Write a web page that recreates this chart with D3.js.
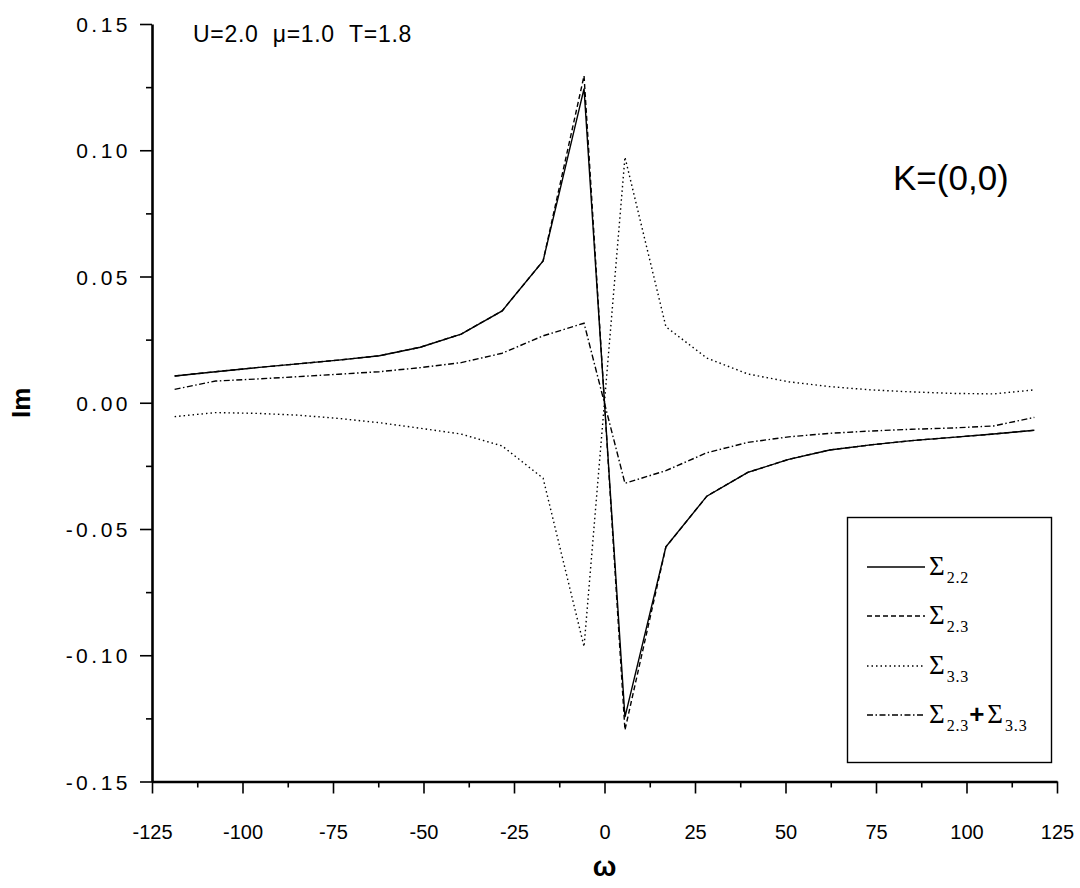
<!DOCTYPE html>
<html>
<head>
<meta charset="utf-8">
<script src="https://cdn.jsdelivr.net/npm/d3@7"></script>
<style>
  html, body { margin: 0; padding: 0; background: #fff; }
  svg { display: block; }
  .tick text { font-family: "Liberation Sans", Arial, sans-serif; }
</style>
</head>
<body>
<svg id="chart" width="1080" height="888"></svg>
<script>
// Matsubara frequencies (omega) at which the self-energies are evaluated
const omega = [-118.75, -107.44, -96.13, -84.82, -73.51, -62.20, -50.89, -39.58, -28.27, -16.96, -5.65,
                 5.65,   16.96,   28.27,  39.58,  50.89,  62.20,  73.51,  84.82,  96.13, 107.44, 118.75];

// Imaginary parts of the self-energy components
const sigma22 = [0.0106, 0.0123, 0.0139, 0.0154, 0.0169, 0.0186, 0.0220, 0.0272, 0.0364, 0.0562, 0.1244,
                -0.1245, -0.0571, -0.0370, -0.0276, -0.0224, -0.0187, -0.0167, -0.0150, -0.0137, -0.0124, -0.0109];
const sigma23 = [0.0106, 0.0123, 0.0139, 0.0154, 0.0169, 0.0186, 0.0220, 0.0272, 0.0364, 0.0562, 0.1295,
                -0.1296, -0.0571, -0.0370, -0.0276, -0.0224, -0.0187, -0.0167, -0.0150, -0.0137, -0.0124, -0.0109];
const sigma33 = [-0.0055, -0.0039, -0.0042, -0.0049, -0.0062, -0.0079, -0.0101, -0.0124, -0.0171, -0.0299, -0.0966,
                  0.0973, 0.0301, 0.0177, 0.0114, 0.0083, 0.0064, 0.0051, 0.0043, 0.0037, 0.0035, 0.0051];
const sigmaSum = [0.0053, 0.0086, 0.0094, 0.0103, 0.0113, 0.0123, 0.0139, 0.0159, 0.0196, 0.0265, 0.0315,
                 -0.0319, -0.0269, -0.0198, -0.0157, -0.0135, -0.0121, -0.0112, -0.0105, -0.0100, -0.0092, -0.0058];

const xTicks = [-125, -100, -75, -50, -25, 0, 25, 50, 75, 100, 125];
const xMinorTicks = [-112.5, -87.5, -62.5, -37.5, -12.5, 12.5, 37.5, 62.5, 87.5, 112.5];
const yTicks = [-0.15, -0.10, -0.05, 0.00, 0.05, 0.10, 0.15];
const yMinorTicks = [-0.125, -0.075, -0.025, 0.025, 0.075, 0.125];

const seriesNames = ["2.2", "2.3", "3.3", "sum"];
const seriesValues = [sigma22, sigma23, sigma33, sigmaSum];
const seriesDash = [null, "5,3", "1.5,3", "6,2.5,1.5,2.5"];

const svg = d3.select("#chart");
const plotLeft = 152, plotRight = 1057, plotTop = 24, plotBottom = 781.5;

const x = d3.scaleLinear().domain([-125, 125]).range([plotLeft, plotRight]);
const y = d3.scaleLinear().domain([-0.15, 0.15]).range([plotBottom, plotTop]);

// plain hyphen-minus for negative tick labels
const hyphen = f => v => f(v).replace("\u2212", "-");

// Curves
const line = d3.line().x(d => x(d[0])).y(d => y(d[1]));
seriesValues.forEach((vals, i) => {
  svg.append("path")
    .datum(omega.map((w, k) => [w, vals[k]]))
    .attr("fill", "none")
    .attr("stroke", "#000")
    .attr("stroke-width", 1.4)
    .attr("stroke-dasharray", seriesDash[i])
    .attr("d", line);
});

// Minor ticks
svg.append("g")
  .attr("transform", `translate(0,${plotBottom})`)
  .call(d3.axisBottom(x).tickValues(xMinorTicks).tickSize(6).tickFormat(""))
  .call(g => g.select(".domain").remove())
  .selectAll("line").attr("stroke-width", 1.6);
svg.append("g")
  .attr("transform", `translate(${plotLeft},0)`)
  .call(d3.axisLeft(y).tickValues(yMinorTicks).tickSize(6).tickFormat(""))
  .call(g => g.select(".domain").remove())
  .selectAll("line").attr("stroke-width", 1.6);

// Major axes
const xAxis = svg.append("g")
  .attr("transform", `translate(0,${plotBottom})`)
  .call(d3.axisBottom(x).tickValues(xTicks).tickSize(12).tickSizeOuter(0).tickFormat(hyphen(d3.format("d"))));
xAxis.select(".domain").attr("stroke-width", 2.6);
xAxis.selectAll(".tick line").attr("stroke-width", 1.6);
xAxis.selectAll(".tick text")
  .attr("font-size", 20).attr("fill", "#000")
  .attr("y", 57).attr("dy", 0);

const yAxis = svg.append("g")
  .attr("transform", `translate(${plotLeft},0)`)
  .call(d3.axisLeft(y).tickValues(yTicks).tickSize(12).tickSizeOuter(0).tickFormat(hyphen(d3.format(".2f"))));
yAxis.select(".domain").attr("stroke-width", 2.6);
yAxis.selectAll(".tick line").attr("stroke-width", 1.6);
yAxis.selectAll(".tick text")
  .attr("font-size", 21).attr("fill", "#000")
  .attr("letter-spacing", 3.5)
  .attr("x", -21).attr("dy", "0.36em");

// Axis titles
svg.append("text")
  .attr("transform", `translate(30,${(plotTop + plotBottom) / 2}) rotate(-90)`)
  .attr("text-anchor", "middle")
  .attr("font-family", "Liberation Sans, Arial, sans-serif")
  .attr("font-weight", "bold").attr("font-size", 26)
  .text("Im");
svg.append("text")
  .attr("x", x(0)).attr("y", 876)
  .attr("text-anchor", "middle")
  .attr("font-family", "Liberation Sans, Arial, sans-serif")
  .attr("font-weight", "bold").attr("font-size", 28)
  .text("ω");

// Annotations
svg.append("text")
  .attr("x", 193).attr("y", 42)
  .attr("font-family", "Liberation Sans, Arial, sans-serif")
  .attr("font-size", 23)
  .attr("letter-spacing", 0.7)
  .attr("xml:space", "preserve")
  .text("U=2.0  μ=1.0  T=1.8");
svg.append("text")
  .attr("x", 893).attr("y", 190)
  .attr("font-family", "Liberation Sans, Arial, sans-serif")
  .attr("font-size", 35)
  .text("K=(0,0)");

// Legend
const lg = svg.append("g");
lg.append("rect")
  .attr("x", 847.5).attr("y", 517.5).attr("width", 204).attr("height", 245)
  .attr("fill", "#fff").attr("stroke", "#000").attr("stroke-width", 1.4);

const rowY = [567, 616, 666, 715];
const serif = "Liberation Serif, Times New Roman, serif";
seriesNames.forEach((name, i) => {
  lg.append("line")
    .attr("x1", 867).attr("x2", 925)
    .attr("y1", rowY[i]).attr("y2", rowY[i])
    .attr("stroke", "#000").attr("stroke-width", 1.4)
    .attr("stroke-dasharray", seriesDash[i]);
  const t = lg.append("text")
    .attr("x", 929).attr("y", rowY[i] + 8)
    .attr("font-family", serif).attr("font-size", 27);
  if (name === "sum") {
    t.append("tspan").text("Σ");
    t.append("tspan").attr("font-size", 16).attr("letter-spacing", 0.8).attr("dx", 2).attr("dy", 8).text("2.3");
    t.append("tspan").attr("font-family", "Liberation Sans, Arial, sans-serif")
      .attr("font-weight", "bold").attr("font-size", 26).attr("dy", -8).text("+");
    t.append("tspan").attr("dx", 3).text("Σ");
    t.append("tspan").attr("font-size", 16).attr("letter-spacing", 0.8).attr("dx", 2).attr("dy", 8).text("3.3");
  } else {
    t.append("tspan").text("Σ");
    t.append("tspan").attr("font-size", 16).attr("letter-spacing", 0.8).attr("dx", 2).attr("dy", 8).text(name);
  }
});
</script>
</body>
</html>
